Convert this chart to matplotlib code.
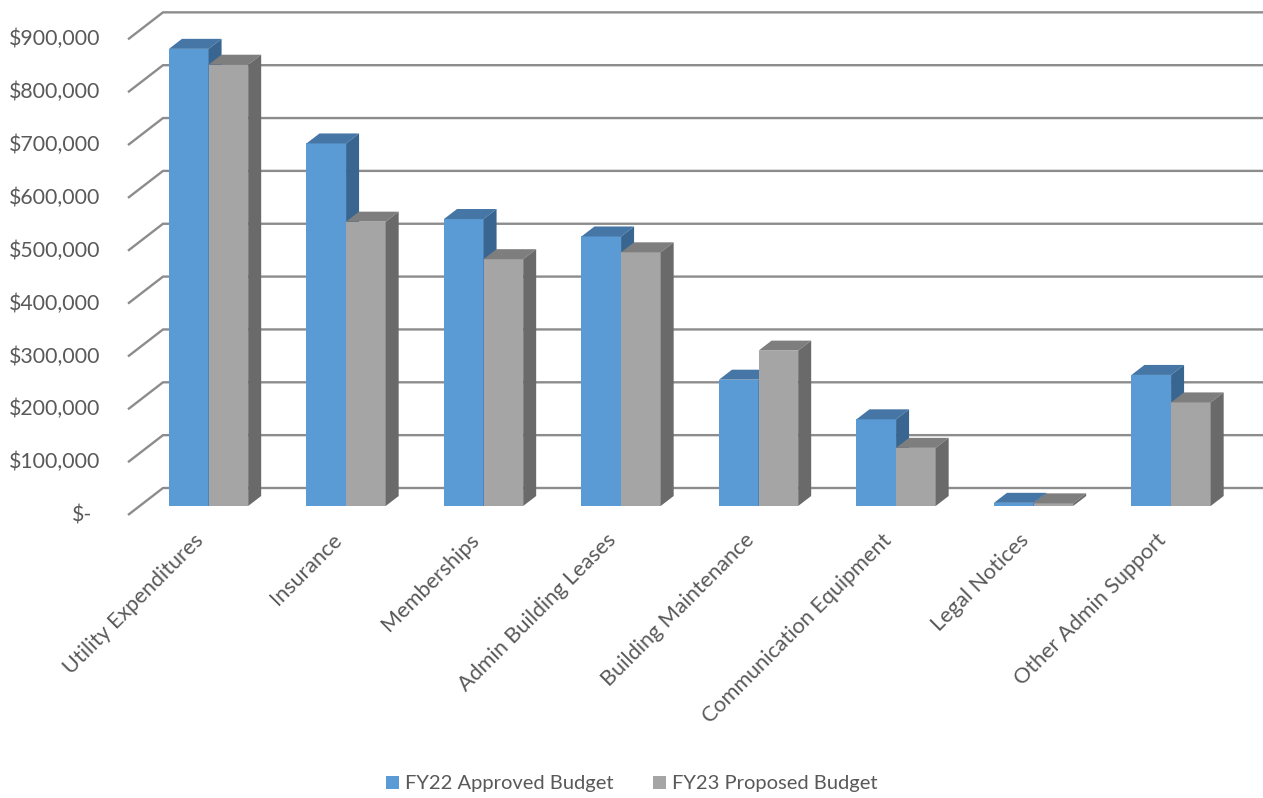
import matplotlib
matplotlib.use("Agg")
import matplotlib.pyplot as plt
from matplotlib.patches import Polygon, Patch

# ---- data -------------------------------------------------------------
categories = [
    "Utility Expenditures",
    "Insurance",
    "Memberships",
    "Admin Building Leases",
    "Building Maintenance",
    "Communication Equipment",
    "Legal Notices",
    "Other Admin Support",
]
fy22_approved = [865000, 686000, 543000, 510000, 239000, 164000, 6000, 248000]
fy23_proposed = [835000, 538000, 467000, 480000, 294000, 110000, 5000, 196000]
series_names = ["FY22 Approved Budget", "FY23 Proposed Budget"]
y_ticks = list(range(0, 900001, 100000))

# ---- styling ----------------------------------------------------------
FONT = "Lato"
TEXT_COLOR = "#595959"
GRID_COLOR = "#8c8c8c"
# (front, top, side) shades for each series
SHADES = [
    ("#5b9bd5", "#4576a6", "#396690"),
    ("#a5a5a5", "#7e7e7e", "#6a6a6a"),
]

W, H = 1263, 798
fig = plt.figure(figsize=(W / 100, H / 100), dpi=100)
fig.patch.set_facecolor("white")

# plot region: floor front edge at 515 px from the top, left wall at 128 px
LEFT_PX, FLOOR_PX = 128, 515
px_per_cat = 137.5
px_per_val = 52.85 / 100000

ax = fig.add_axes([LEFT_PX / W, (H - FLOOR_PX) / H, (W - LEFT_PX) / W, FLOOR_PX / H])
ax.set_xlim(0, (W - LEFT_PX) / px_per_cat)
ax.set_ylim(0, FLOOR_PX / px_per_val)
ax.axis("off")

# perspective offsets (data units) for the full wall depth and for a bar
wall_dx, wall_dy = 35 / px_per_cat, 27 / px_per_val
bar_dx, bar_dy = 13 / px_per_cat, 10 / px_per_val
bar_base = wall_dy / 3.0          # bars stand a third of the way back
bar_w = 0.288
group_off = 0.298

# ---- back wall gridlines ---------------------------------------------
xmax = ax.get_xlim()[1]
for v in y_ticks:
    ax.plot([0, wall_dx, xmax], [v, v + wall_dy, v + wall_dy],
            color=GRID_COLOR, lw=1.7, solid_capstyle="butt", zorder=1,
            clip_on=False)

# ---- 3-D looking bars -------------------------------------------------
z = 2
for i in range(len(categories)):
    for s, values in enumerate([fy22_approved, fy23_proposed]):
        v = values[i]
        front, top, side = SHADES[s]
        x0 = i + group_off + s * bar_w
        ax.bar(x0, v, width=bar_w, bottom=bar_base, align="edge",
               color=front, edgecolor="none", zorder=z)
        y1 = bar_base + v
        ax.add_patch(Polygon([(x0, y1), (x0 + bar_w, y1),
                              (x0 + bar_w + bar_dx, y1 + bar_dy),
                              (x0 + bar_dx, y1 + bar_dy)],
                             closed=True, facecolor=top, edgecolor="none",
                             zorder=z + 0.5))
        ax.add_patch(Polygon([(x0 + bar_w, bar_base),
                              (x0 + bar_w + bar_dx, bar_base + bar_dy),
                              (x0 + bar_w + bar_dx, y1 + bar_dy),
                              (x0 + bar_w, y1)],
                             closed=True, facecolor=side, edgecolor="none",
                             zorder=z + 0.5))
        z += 1

# ---- value axis labels -----------------------------------------------
for v in y_ticks:
    y_fig = (H - FLOOR_PX + v * px_per_val) / H
    if v == 0:
        fig.text(92 / W, y_fig, "$-", ha="right", va="center",
                 fontsize=15.3, color=TEXT_COLOR, family=FONT)
    else:
        fig.text(100 / W, y_fig, f"${v:,}", ha="right", va="center",
                 fontsize=15.3, color=TEXT_COLOR, family=FONT)

# ---- category labels -------------------------------------------------
for i, name in enumerate(categories):
    ax.text(i + 0.5 + 0.03, -22 / px_per_val, name, rotation=45,
            rotation_mode="anchor", ha="right", va="center",
            fontsize=15.6, color=TEXT_COLOR, family=FONT, clip_on=False)

# ---- legend ----------------------------------------------------------
handles = [Patch(facecolor=SHADES[k][0], edgecolor="none", label=series_names[k])
           for k in range(2)]
fig.legend(handles=handles, loc="center", bbox_to_anchor=(0.5, (H - 784) / H),
           ncol=2, frameon=False, handlelength=0.65,
           handleheight=0.65, handletextpad=0.3, columnspacing=1.95,
           prop={"family": FONT, "size": 14.5}, labelcolor=TEXT_COLOR)

fig.savefig("out.png", dpi=100, facecolor="white")
